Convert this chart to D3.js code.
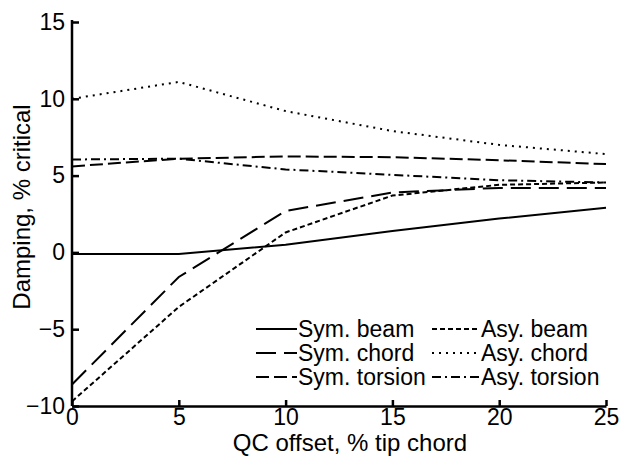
<!DOCTYPE html>
<html><head><meta charset="utf-8">
<script src="https://cdn.jsdelivr.net/npm/d3@7"></script>
<style>body{margin:0;background:#fff}svg{display:block}text{font-family:"Liberation Sans",Arial,sans-serif;fill:#000}</style>
</head><body><svg id="c" width="626" height="460"></svg>
<script>
const xValues = [0, 5, 10, 15, 20, 25];
const symBeam    = [-0.1, -0.1, 0.5, 1.4, 2.2, 2.9];
const symChord   = [-8.6, -1.6, 2.7, 3.9, 4.2, 4.2];
const symTorsion = [5.6, 6.1, 6.25, 6.2, 6.0, 5.75];
const asyBeam    = [-9.7, -3.55, 1.3, 3.7, 4.4, 4.55];
const asyChord   = [10.0, 11.1, 9.2, 7.9, 7.0, 6.4];
const asyTorsion = [6.05, 6.1, 5.4, 5.05, 4.7, 4.55];
const xTicks = [0, 5, 10, 15, 20, 25];
const yTicks = [-10, -5, 0, 5, 10, 15];
const seriesNames = ["Sym. beam", "Sym. chord", "Sym. torsion", "Asy. beam", "Asy. chord", "Asy. torsion"];
const seriesData = [symBeam, symChord, symTorsion, asyBeam, asyChord, asyTorsion];
const dashes = [null, "20,8", "13,5", "5,3", "2,5", "9,4,2,4"];

const svg = d3.select("#c");
const x = d3.scaleLinear().domain([0, 25]).range([72, 606]);
const y = d3.scaleLinear().domain([-10, 15]).range([406, 22]);
const fs = 23;

// axes
const xa = svg.append("g").attr("transform", `translate(0,${y(-10)})`)
  .call(d3.axisBottom(x).tickValues(xTicks).tickSizeInner(-6).tickSizeOuter(0).tickPadding(3));
const ya = svg.append("g").attr("transform", `translate(${x(0)},0)`)
  .call(d3.axisLeft(y).tickValues(yTicks).tickSizeInner(-7).tickSizeOuter(0).tickPadding(7));
[xa, ya].forEach(a => {
  a.select(".domain").attr("stroke", "#000").attr("stroke-width", 2.5);
  a.selectAll(".tick line").attr("stroke", "#000").attr("stroke-width", 2.5);
  a.selectAll(".tick text").attr("font-size", fs).attr("font-family", "Liberation Sans, Arial, sans-serif").attr("fill", "#000");
});
ya.select(".domain").attr("d", `M0,${y(-10)}V${y(15) - 2}`);

// lines
const line = d3.line().x((d, i) => x(xValues[i])).y(d => y(d));
seriesData.forEach((s, k) => {
  svg.append("path").datum(s).attr("d", line).attr("fill", "none")
    .attr("stroke", "#000").attr("stroke-width", 2)
    .attr("stroke-dasharray", dashes[k]);
});

// legend
const lg = svg.append("g");
const cols = [{x1: 256, x2: 297}, {x1: 432, x2: 480}];
seriesNames.forEach((n, k) => {
  const c = cols[Math.floor(k / 3)], r = k % 3;
  const yy = 329 + r * 24;
  lg.append("line").attr("x1", c.x1).attr("x2", c.x2).attr("y1", yy).attr("y2", yy)
    .attr("stroke", "#000").attr("stroke-width", 2).attr("stroke-dasharray", dashes[k]);
  lg.append("text").attr("x", c.x2 + 1).attr("y", yy + 8).attr("font-size", 23).text(n);
});

// axis labels
svg.append("text").attr("x", 350).attr("y", 451).attr("text-anchor", "middle").attr("font-size", 24)
  .text("QC offset, % tip chord");
svg.append("text").attr("transform", "translate(30,207) rotate(-90)").attr("text-anchor", "middle").attr("font-size", 24)
  .text("Damping, % critical");
</script></body></html>
